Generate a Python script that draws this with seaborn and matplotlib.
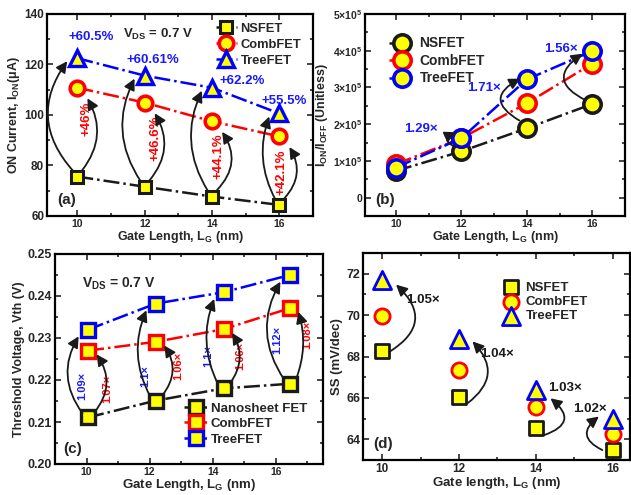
import matplotlib
matplotlib.use("Agg")
import matplotlib.pyplot as plt
import seaborn as sns
import numpy as np
from matplotlib.ticker import MultipleLocator, FuncFormatter

# ---------------- data ----------------
lg = [10, 12, 14, 16]
ion_ns = [75.6, 71.6, 67.7, 64.4]
ion_comb = [110.8, 104.9, 97.5, 91.5]
ion_tree = [122.5, 115.6, 110.8, 100.6]
ion_comb_pct = ["+46%", "+46.6%", "+44.1%", "+42.1%"]
ion_tree_pct = ["+60.5%", "+60.61%", "+62.2%", "+55.5%"]

ratio_ns = [0.73e5, 1.26e5, 1.89e5, 2.55e5]
ratio_comb = [0.91e5, 1.62e5, 2.57e5, 3.65e5]
ratio_tree = [0.82e5, 1.62e5, 3.22e5, 3.99e5]
ratio_gain = ["", "1.29×", "1.71×", "1.56×"]

vth_lg = [10.05, 12.2, 14.35, 16.45]
vth_ns = [0.2111, 0.2151, 0.2180, 0.2191]
vth_comb = [0.2270, 0.2291, 0.2321, 0.2371]
vth_tree = [0.2320, 0.2382, 0.2409, 0.2450]
vth_tree_gain = ["1.09×", "1.1×", "1.1×", "1.12×"]
vth_comb_gain = ["1.07×", "1.06×", "1.06×", "1.08×"]

ss_ns = [68.27, 66.06, 64.53, 63.48]
ss_comb = [69.97, 67.35, 65.58, 64.26]
ss_tree = [71.7, 68.84, 66.4, 65.0]
ss_gain = ["1.05×", "1.04×", "1.03×", "1.02×"]

# ---------------- style ----------------
sns.set_theme(style="ticks")
plt.rcParams.update({
    "font.family": ["Liberation Sans", "DejaVu Sans"],
    "font.weight": "bold",
    "axes.labelweight": "bold",
    "mathtext.fontset": "custom",
    "mathtext.rm": "Liberation Sans:bold",
    "mathtext.bf": "Liberation Sans:bold",
    "mathtext.it": "Liberation Sans:bold",
    "mathtext.sf": "Liberation Sans:bold",
    "mathtext.default": "bf",
    "axes.linewidth": 1.6,
    "axes.edgecolor": "black",
})

YEL = "#FFFF00"
RED = "#FF0000"
BLUE = "#0000FF"
TBLUE = "#1A1AFF"

W, H = 631, 495
fig = plt.figure(figsize=(W / 100, H / 100), dpi=100)


def px_axes(l, t, r, b):
    return fig.add_axes([l / W, 1 - b / H, (r - l) / W, (b - t) / H])


ax_a = px_axes(47, 14, 313, 216)
ax_b = px_axes(365, 14, 625, 216)
ax_c = px_axes(55, 254, 323, 464)
ax_d = px_axes(363, 253, 630, 460)


def style_ax(ax, xfs=7.5, yfs=8.5):
    ax.tick_params(which="both", direction="in", top=True, right=True, width=1.2)
    ax.tick_params(which="major", length=4)
    ax.tick_params(which="minor", length=2.5)
    ax.tick_params(axis="x", labelsize=xfs, pad=2.5)
    ax.tick_params(axis="y", labelsize=yfs, pad=2)
    for t in ax.get_xticklabels() + ax.get_yticklabels():
        t.set_fontweight("bold")
    for s in ax.spines.values():
        s.set_visible(True)
        s.set_linewidth(1.6)


def arrow(ax, x0, y0, x1, y1, rad, lw=1.3):
    ax.annotate("", xy=(x1, y1), xytext=(x0, y0),
                arrowprops=dict(arrowstyle="-|>,head_length=0.55,head_width=0.28",
                                connectionstyle=f"arc3,rad={rad}", color="k",
                                lw=lw, shrinkA=0, shrinkB=0), zorder=5)


def line(ax, x, y, color, marker, ms, mew, label):
    sns.lineplot(x=x, y=y, ax=ax, color=color, linestyle="-.", linewidth=1.8,
                 marker=marker, markersize=ms, markerfacecolor=YEL,
                 markeredgecolor=color, markeredgewidth=mew, label=label,
                 sort=False, zorder=4)


# ================= (a) =================
ax = ax_a
line(ax, lg, ion_ns, "k", "s", 9, 2.2, "NSFET")
line(ax, lg, ion_comb, RED, "o", 10.5, 2.6, "CombFET")
line(ax, lg, ion_tree, BLUE, "^", 11, 2.4, "TreeFET")
ax.set_xlim(9.1, 17)
ax.set_ylim(60, 140)
ax.xaxis.set_major_locator(MultipleLocator(2))
ax.xaxis.set_minor_locator(MultipleLocator(1))
ax.yaxis.set_major_locator(MultipleLocator(20))
ax.yaxis.set_minor_locator(MultipleLocator(10))
style_ax(ax, 7.5, 8.5)
ax.set_xlabel(r"Gate Length, L$_{G}$ (nm)", fontsize=9, labelpad=0)
ax.set_ylabel(r"ON Current, I$_{ON}$(μA)", fontsize=9, labelpad=2)
ax.legend(loc="upper right", bbox_to_anchor=(0.985, 0.995), frameon=False,
          handlelength=1.6, handletextpad=0.3, labelspacing=0.3,
          borderaxespad=0.2, prop={"weight": "bold", "size": 9.3})
ax.text(0.285, 0.9, r"V$_{DS}$ = 0.7 V", transform=ax.transAxes, fontsize=9.5,
        fontweight="bold", va="center", ha="left")
ax.text(0.04, 0.06, "(a)", transform=ax.transAxes, fontsize=11, fontweight="bold")
a_left_rad = [-0.4, -0.29, -0.27, -0.22]
a_right_rad = [0.33, 0.35, 0.4, 0.37]
a_tree_txt = [(0.4, 8.5), (0.25, 6.2), (0.9, 2.6), (0.15, 4.8)]
a_comb_txt = [(0.27, -12.5), (0.33, -14), (0.2, -14), (0.05, -14)]
for i, x in enumerate(lg):
    arrow(ax, x - 0.12, ion_ns[i] + 2.2, x - 0.3, ion_tree[i] - 1.2, a_left_rad[i])
    arrow(ax, x + 0.15, ion_ns[i] + 2.6, x + 0.3, ion_comb[i] - 4.2, a_right_rad[i])
    dx, dy = a_tree_txt[i]
    ax.text(x + dx, ion_tree[i] + dy, ion_tree_pct[i], color=TBLUE, fontsize=9.5,
            fontweight="bold", ha="center", va="center")
    dx, dy = a_comb_txt[i]
    ax.text(x + dx, ion_comb[i] + dy, ion_comb_pct[i], color=RED, fontsize=9.5,
            fontweight="bold", ha="center", va="center", rotation=90)

# ================= (b) =================
ax = ax_b
line(ax, lg, ratio_ns, "k", "o", 12.5, 2.6, "NSFET")
line(ax, lg, ratio_comb, RED, "o", 12.5, 2.6, "CombFET")
line(ax, lg, ratio_tree, BLUE, "o", 12.5, 2.6, "TreeFET")
ax.set_xlim(9.05, 17)
ax.set_ylim(-0.5e5, 5e5)
ax.xaxis.set_major_locator(MultipleLocator(2))
ax.xaxis.set_minor_locator(MultipleLocator(1))
ax.yaxis.set_major_locator(MultipleLocator(1e5))
ax.yaxis.set_minor_locator(MultipleLocator(0.5e5))


def sci(v, pos):
    n = int(round(v / 1e5))
    if n == 0:
        return "0"
    return rf"{n}×10$^{{5}}$"


ax.yaxis.set_major_formatter(FuncFormatter(sci))
style_ax(ax, 7.5, 7.5)
ax.set_xlabel(r"Gate Length, L$_{G}$ (nm)", fontsize=9, labelpad=0)
ax.set_ylabel(r"I$_{ON}$/I$_{OFF}$ (Unitless)", fontsize=9, labelpad=2)
ax.legend(loc="upper left", bbox_to_anchor=(0.06, 0.93), frameon=False,
          handlelength=1.9, handletextpad=0.3, labelspacing=0.25,
          borderaxespad=0.2, prop={"weight": "bold", "size": 10})
ax.text(0.04, 0.06, "(b)", transform=ax.transAxes, fontsize=11, fontweight="bold")
b_rad = [0, -1.1, -0.9, -0.85]
b_start = [(0, 0), (-0.17, 0.11e5), (-0.23, 0.21e5), (-0.2, 0.1e5)]
b_end = [(0, 0), (-0.17, 0.16e5), (-0.2, 0.02e5), (-0.3, -0.07e5)]
b_txt = [(0, 0), (-1.25, 0.25e5), (-1.31, -0.23e5), (-0.96, 0.07e5)]
for i, x in enumerate(lg):
    if not ratio_gain[i]:
        continue
    sx, sy = b_start[i]
    ex, ey = b_end[i]
    arrow(ax, x + sx, ratio_ns[i] + sy, x + ex, ratio_tree[i] + ey, b_rad[i])
    tx, ty = b_txt[i]
    ax.text(x + tx, ratio_tree[i] + ty, ratio_gain[i], color=TBLUE, fontsize=9.5,
            fontweight="bold", ha="center", va="center")

# ================= (c) =================
ax = ax_c
line(ax, vth_lg, vth_ns, "k", "s", 9.5, 2.4, "Nanosheet FET")
line(ax, vth_lg, vth_comb, RED, "s", 9.5, 2.4, "CombFET")
line(ax, vth_lg, vth_tree, BLUE, "s", 9.5, 2.4, "TreeFET")
ax.set_xlim(9, 17.5)
ax.set_ylim(0.20, 0.25)
ax.set_xticks(lg)
ax.xaxis.set_minor_locator(MultipleLocator(1))
ax.yaxis.set_major_locator(MultipleLocator(0.01))
ax.yaxis.set_minor_locator(MultipleLocator(0.005))
ax.yaxis.set_major_formatter(FuncFormatter(lambda v, p: f"{v:.2f}"))
style_ax(ax, 7.5, 9)
ax.set_xlabel(r"Gate Length, L$_{G}$ (nm)", fontsize=9.5, labelpad=0)
ax.set_ylabel("Threshold Voltage, Vth (V)", fontsize=9, labelpad=2)
ax.legend(loc="lower right", bbox_to_anchor=(0.97, 0.05), frameon=False,
          handlelength=1.7, handletextpad=0.3, labelspacing=0.25,
          borderaxespad=0.2, prop={"weight": "bold", "size": 9.5})
ax.text(0.1, 0.86, r"V$_{DS}$ = 0.7 V", transform=ax.transAxes, fontsize=10,
        fontweight="bold", va="center", ha="left")
ax.text(0.03, 0.05, "(c)", transform=ax.transAxes, fontsize=11, fontweight="bold")
c_left_rad = [-0.33, -0.24, -0.22, -0.31]
c_right_rad = [0.37, 0.36, 0.33, 0.17]
c_tree_txt = [(-0.2, -0.0134), (-0.34, -0.0173), (-0.5, -0.0152), (-0.39, -0.0154)]
c_comb_txt = [(0.62, -0.0092), (0.7, -0.0058), (0.51, -0.0064), (0.55, -0.0063)]
for i, x in enumerate(vth_lg):
    arrow(ax, x - 0.18, vth_ns[i] + 0.001, x - 0.3, vth_tree[i] - 0.0016, c_left_rad[i])
    arrow(ax, x + 0.2, vth_ns[i] + 0.0012, x + 0.27, vth_comb[i] - 0.0009, c_right_rad[i])
    dx, dy = c_tree_txt[i]
    ax.text(x + dx, vth_tree[i] + dy, vth_tree_gain[i], color=TBLUE, fontsize=8,
            fontweight="bold", ha="center", va="center", rotation=90)
    dx, dy = c_comb_txt[i]
    ax.text(x + dx, vth_comb[i] + dy, vth_comb_gain[i], color=RED, fontsize=8,
            fontweight="bold", ha="center", va="center", rotation=90)

# ================= (d) =================
ax = ax_d
sns.scatterplot(x=lg, y=ss_ns, ax=ax, marker="s", s=105, color=YEL, edgecolor="k",
                linewidth=2.0, label="NSFET", zorder=4)
sns.scatterplot(x=lg, y=ss_comb, ax=ax, marker="o", s=120, color=YEL, edgecolor=RED,
                linewidth=2.0, label="CombFET", zorder=4)
sns.scatterplot(x=lg, y=ss_tree, ax=ax, marker="^", s=170, color=YEL, edgecolor=BLUE,
                linewidth=2.0, label="TreeFET", zorder=4)
ax.set_xlim(9.5, 16.45)
ax.set_ylim(63, 73)
ax.xaxis.set_major_locator(MultipleLocator(2))
ax.xaxis.set_minor_locator(MultipleLocator(1))
ax.yaxis.set_major_locator(MultipleLocator(2))
ax.yaxis.set_minor_locator(MultipleLocator(1))
style_ax(ax, 8.5, 9)
ax.set_xlabel(r"Gate length, L$_{G}$ (nm)", fontsize=9.5, labelpad=0)
ax.set_ylabel("SS (mV/dec)", fontsize=9.5, labelpad=2)
ax.legend(loc="upper left", bbox_to_anchor=(0.5, 0.9), frameon=False,
          handlelength=1.0, handletextpad=0.6, labelspacing=0.15,
          borderaxespad=0.2, prop={"weight": "bold", "size": 9.5})
ax.text(0.04, 0.06, "(d)", transform=ax.transAxes, fontsize=11, fontweight="bold")
d_rad = [0.65, 0.56, 0.9, -0.8]
d_start = [(0.2, -0.03), (0.22, -0.32), (0.21, -0.33), (-0.27, 0.0)]
d_end = [(0.36, -0.23), (0.35, -0.11), (0.38, -0.42), (-0.36, 0.1)]
d_txt = [(1.07, -0.96), (0.99, -0.71), (0.75, 0.07), (-0.6, 0.45)]
for i, x in enumerate(lg):
    sx, sy = d_start[i]
    ex, ey = d_end[i]
    arrow(ax, x + sx, ss_ns[i] + sy, x + ex, ss_tree[i] + ey, d_rad[i])
    tx, ty = d_txt[i]
    ax.text(x + tx, ss_tree[i] + ty, ss_gain[i], color="k", fontsize=9.5,
            fontweight="bold", ha="center", va="center")

fig.savefig("out.png", dpi=100)
